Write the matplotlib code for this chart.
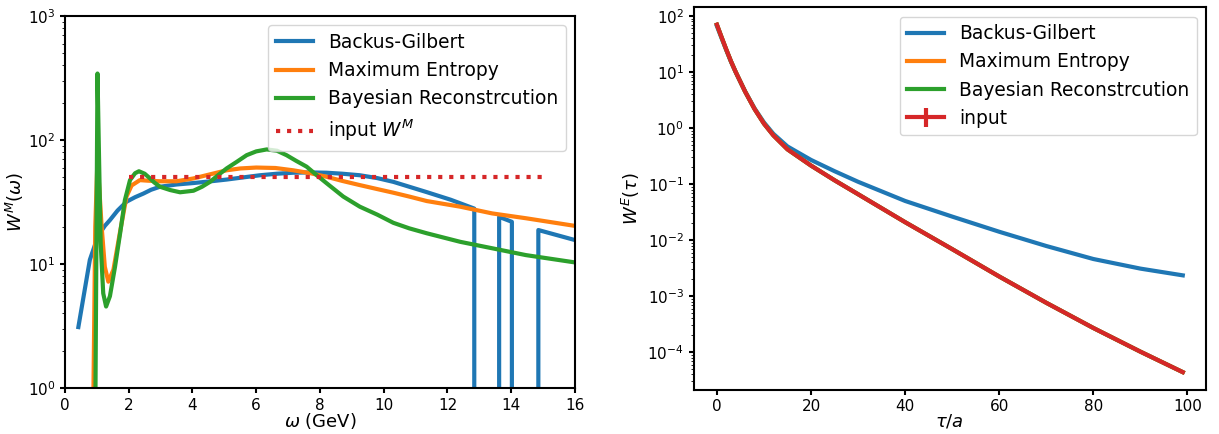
import numpy as np
import matplotlib
matplotlib.use("Agg")
from matplotlib import pyplot as plt

# spectral function reconstructions W^M(omega)
omega_bg = [0.42, 0.78, 0.95, 1.10, 1.25, 1.41, 1.65, 1.93, 2.2, 2.46, 2.7, 2.98, 3.5,
            4.03, 4.55, 5.07, 5.6, 6.12, 6.65, 7.16, 7.7, 8.2, 8.7, 9.25, 9.8, 10.3,
            10.8, 11.35, 12.1, 12.84, 12.86, 13.60, 13.62, 14.02, 14.04, 14.83, 14.85, 16.0]
w_bg = [3.1, 10.8, 14.5, 17.8, 20.3, 22.6, 27, 31.8, 34.6, 37, 39.7, 42, 43.8,
        45, 46.4, 48, 50, 52, 53.5, 54.5, 54.8, 54.5, 53.5, 52, 49.3, 46,
        42, 38, 33, 28, -5, -5, 24.0, 21.9, -5, -5, 18.8, 15.6]

omega_me = [0.89, 0.95, 1.02, 1.15, 1.25, 1.36, 1.52, 1.72, 1.93, 2.09, 2.35, 2.6,
            2.98, 3.5, 4.03, 4.5, 5.07, 5.5, 6.0, 6.6, 7.16, 7.7, 8.2, 8.7, 9.25,
            9.8, 10.3, 10.8, 11.35, 12.4, 13.4, 14.46, 16.0]
w_me = [0.8, 20, 71, 20, 9.5, 7.2, 9.0, 17.7, 35, 43, 47.5, 47,
        46.5, 46.5, 49, 52.5, 57, 59, 60, 59.5, 57, 54, 50.6, 46.8, 43.3,
        40.2, 37.6, 35, 32.2, 29, 25.6, 23.4, 20.3]

omega_br = [0.95, 1.02, 1.07, 1.12, 1.20, 1.29, 1.41, 1.57, 1.73, 1.88, 2.04, 2.2,
            2.32, 2.5, 2.67, 2.8, 2.98, 3.3, 3.61, 4.03, 4.3, 4.55, 4.8, 5.07,
            5.4, 5.7, 6.0, 6.33, 6.65, 6.95, 7.25, 7.58, 7.9, 8.2, 8.73, 9.25,
            9.8, 10.3, 10.8, 11.35, 12.4, 13.4, 14.46, 16.0]
w_br = [0.5, 344, 69, 14.7, 5.8, 4.54, 5.5, 9.5, 17.7, 32.8, 47.5, 54,
        56, 53.5, 49, 45.5, 42, 39.5, 37.9, 39, 42, 46, 52, 59,
        67, 75.5, 81, 84, 82, 75.5, 68, 61, 52, 45, 35, 29,
        25, 21.5, 19.4, 17.7, 15.1, 13.4, 11.8, 10.3]

omega_in = [2.0, 15.0]
w_in = [50, 50]

# Euclidean correlators W^E(tau)
tau = [0, 1, 2, 3, 4, 6, 8, 10, 12, 15, 20, 25, 30, 40, 50, 60, 70, 80, 90, 99]
we_input = [70, 41.7, 25.1, 15.5, 10.0, 4.47, 2.19, 1.20, 0.741, 0.417, 0.214, 0.117,
            0.066, 0.0209, 6.9e-3, 2.24e-3, 7.6e-4, 2.7e-4, 1.02e-4, 4.4e-5]
we_me = we_input
we_br = we_input
we_bg = [66, 40, 24.5, 15.2, 9.9, 4.5, 2.25, 1.26, 0.79, 0.47, 0.27, 0.17,
         0.11, 0.05, 0.0263, 0.0141, 7.85e-3, 4.6e-3, 3.1e-3, 2.35e-3]

plt.rcParams['axes.linewidth'] = 1.5
plt.rcParams['xtick.major.width'] = 1.5
plt.rcParams['ytick.major.width'] = 1.5
plt.rcParams['xtick.labelsize'] = 11
plt.rcParams['ytick.labelsize'] = 11
plt.rcParams['axes.labelsize'] = 13

fig = plt.figure(figsize=(12.19, 4.34), dpi=100)
ax1 = fig.add_axes([0.0533, 0.106, 0.4184, 0.857])
ax2 = fig.add_axes([0.569, 0.1025, 0.4204, 0.8806])

lw = 3
ax1.plot(omega_bg, w_bg, color='C0', lw=lw, label='Backus-Gilbert')
ax1.plot(omega_me, w_me, color='C1', lw=lw, label='Maximum Entropy')
ax1.plot(omega_br, w_br, color='C2', lw=lw, label='Bayesian Reconstrcution')
ax1.plot(omega_in, w_in, color='C3', lw=lw, ls=':', label='input $W^M$')
ax1.set_yscale('log')
ax1.set_xlim(0, 16)
ax1.set_ylim(1, 1000)
ax1.set_xlabel(r'$\omega$ (GeV)', labelpad=-1)
ax1.set_ylabel(r'$W^M(\omega)$', labelpad=1)
ax1.legend(loc='upper right', fontsize=13.4)

ax2.plot(tau, we_bg, color='C0', lw=lw, label='Backus-Gilbert')
ax2.plot(tau, we_me, color='C1', lw=lw, label='Maximum Entropy')
ax2.plot(tau, we_br, color='C2', lw=lw, label='Bayesian Reconstrcution')
ax2.errorbar(tau, we_input, yerr=0, color='C3', lw=lw, elinewidth=lw, label='input')
ax2.set_yscale('log')
ax2.set_xlabel(r'$\tau/a$', labelpad=-1)
ax2.set_ylabel(r'$W^E(\tau)$')
ax2.legend(loc='upper right', fontsize=13.4)

fig.savefig('out.png', dpi=100)
